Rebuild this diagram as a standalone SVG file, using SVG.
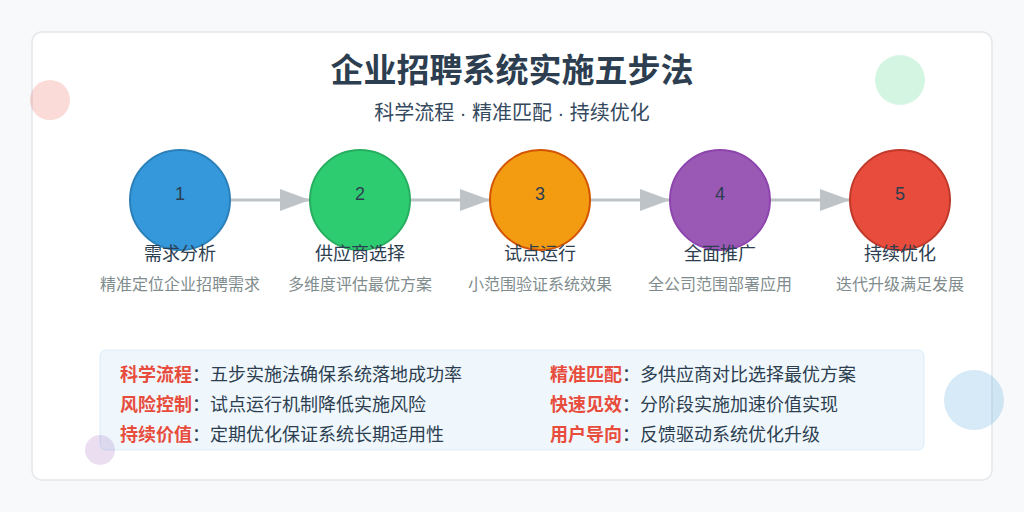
<svg xmlns="http://www.w3.org/2000/svg" width="1024" height="512" viewBox="0 0 1024 512">
<defs>
<style>
text{font-family:"Liberation Sans","Noto Sans CJK SC",sans-serif;text-anchor:middle}
.num{font-size:18px;fill:#2c3e50}
.lbl{font-size:18px;fill:#2c3e50}
.sub{font-size:16px;fill:#7f8c8d}
.k{font-weight:bold;fill:#e74c3c}
.it{font-size:18px;fill:#2c3e50;text-anchor:start}
.con{stroke:#bdc3c7;stroke-width:3;fill:none;marker-end:url(#a2)}
</style>
<marker id="a2" markerWidth="30" markerHeight="22" refX="30" refY="11" orient="auto" markerUnits="userSpaceOnUse"><path d="M0,0L30,11L0,22z" fill="#bdc3c7"/></marker>
</defs>
<rect width="1024" height="512" fill="#f7f9fb"/>
<rect x="32" y="32" width="960" height="448" rx="10" fill="#fff" stroke="#e3e8ec" stroke-width="1.5"/>
<circle cx="50" cy="100" r="20" fill="#e74c3c" fill-opacity="0.2"/>
<circle cx="900" cy="80" r="25" fill="#2ecc71" fill-opacity="0.2"/>
<circle cx="974" cy="400" r="30" fill="#3498db" fill-opacity="0.2"/>
<circle cx="100" cy="450" r="15" fill="#9b59b6" fill-opacity="0.2"/>
<text x="512" y="82" style="font-size:33px;font-weight:bold;fill:#2c3e50">企业招聘系统实施五步法</text>
<text x="512" y="120" style="font-size:20px;fill:#34495e">科学流程 · 精准匹配 · 持续优化</text>
<g id="connectors">
<line class="con" x1="230" y1="200" x2="310" y2="200"/>
<line class="con" x1="410" y1="200" x2="490" y2="200"/>
<line class="con" x1="590" y1="200" x2="670" y2="200"/>
<line class="con" x1="770" y1="200" x2="850" y2="200"/>
</g>
<g id="n1"><circle cx="180" cy="200" r="50" fill="#3498db" stroke="#2a80b9" stroke-width="2"/><text class="num" x="180" y="200">1</text><text class="lbl" x="180" y="260">需求分析</text><text class="sub" x="180" y="290">精准定位企业招聘需求</text></g>
<g id="n2"><circle cx="360" cy="200" r="50" fill="#2ecc71" stroke="#27ae60" stroke-width="2"/><text class="num" x="360" y="200">2</text><text class="lbl" x="360" y="260">供应商选择</text><text class="sub" x="360" y="290">多维度评估最优方案</text></g>
<g id="n3"><circle cx="540" cy="200" r="50" fill="#f39c12" stroke="#d35400" stroke-width="2"/><text class="num" x="540" y="200">3</text><text class="lbl" x="540" y="260">试点运行</text><text class="sub" x="540" y="290">小范围验证系统效果</text></g>
<g id="n4"><circle cx="720" cy="200" r="50" fill="#9b59b6" stroke="#8e44ad" stroke-width="2"/><text class="num" x="720" y="200">4</text><text class="lbl" x="720" y="260">全面推广</text><text class="sub" x="720" y="290">全公司范围部署应用</text></g>
<g id="n5"><circle cx="900" cy="200" r="50" fill="#e74c3c" stroke="#c0392b" stroke-width="2"/><text class="num" x="900" y="200">5</text><text class="lbl" x="900" y="260">持续优化</text><text class="sub" x="900" y="290">迭代升级满足发展</text></g>
<g id="info">
<rect x="100" y="350" width="824" height="100" rx="6" fill="#3498db" fill-opacity="0.08" stroke="#3498db" stroke-opacity="0.15"/>
<text class="it" x="120" y="381"><tspan class="k">科学流程</tspan>：五步实施法确保系统落地成功率</text>
<text class="it" x="120" y="411"><tspan class="k">风险控制</tspan>：试点运行机制降低实施风险</text>
<text class="it" x="120" y="441"><tspan class="k">持续价值</tspan>：定期优化保证系统长期适用性</text>
<text class="it" x="550" y="381"><tspan class="k">精准匹配</tspan>：多供应商对比选择最优方案</text>
<text class="it" x="550" y="411"><tspan class="k">快速见效</tspan>：分阶段实施加速价值实现</text>
<text class="it" x="550" y="441"><tspan class="k">用户导向</tspan>：反馈驱动系统优化升级</text>
</g>
</svg>
